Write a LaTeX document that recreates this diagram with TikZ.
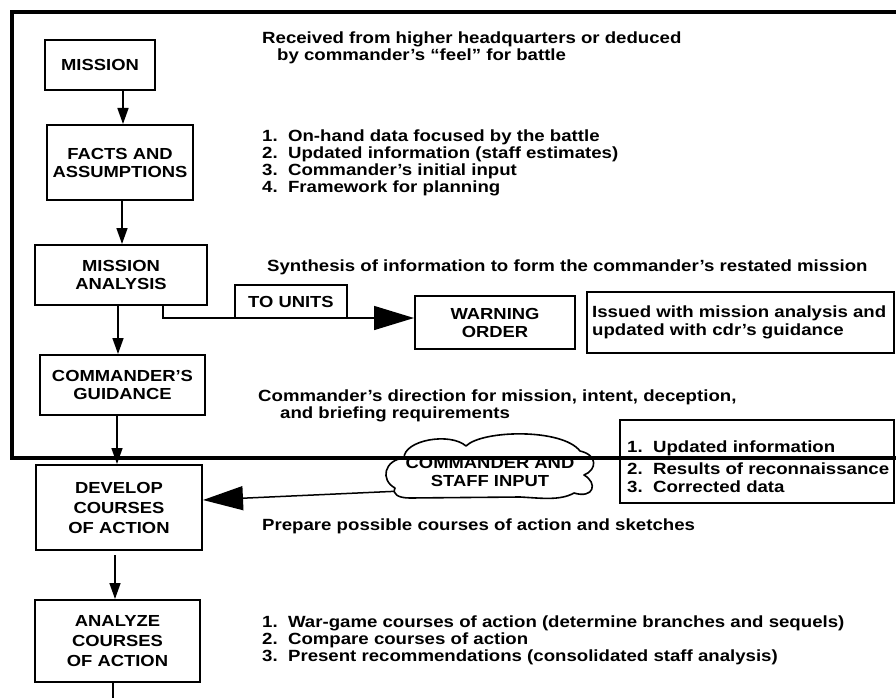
\documentclass[tikz,border=0pt]{standalone}
\usepackage{fontspec}
\setmainfont[FakeStretch=1.15]{Liberation Sans}
\usetikzlibrary{arrows.meta}
\pgfdeclarelayer{bg}
\pgfsetlayers{bg,main}
\begin{document}
\begin{tikzpicture}[x=1pt,y=-1pt,
  box/.style={draw,line width=2pt,fill=white,align=center,inner sep=0pt,
    font=\fontsize{16}{18}\selectfont\bfseries},
  body/.style={anchor=base west,inner sep=0pt,font=\fontsize{16.2}{17}\selectfont\bfseries},
  arr/.style={line width=1.5pt,-{Triangle[length=16pt,width=11pt]}},
  bigarr/.style={line width=1.5pt,-{Triangle[length=40pt,width=24pt]}},
  frame/.style={line width=4.5pt,line join=miter},
  cloudline/.style={draw,line width=1.6pt,fill=white,line join=round}
  ]
\useasboundingbox (0,0) rectangle (896,698);

% left column boxes
\node[box,minimum width=110pt,minimum height=50pt] (mission) at (100,65) {MISSION};
\node[box,minimum width=146pt,minimum height=75pt] (facts) at (120,162.5) {FACTS AND\\ASSUMPTIONS};
\node[box,minimum width=172pt,minimum height=60pt] (analysis) at (121,275) {MISSION\\ANALYSIS};
\node[box,minimum width=165pt,minimum height=60pt] (guidance) at (122.5,385) {COMMANDER'S\\GUIDANCE};
\node[box,minimum width=166pt,minimum height=85pt,font=\fontsize{16}{20}\selectfont\bfseries] (develop) at (119,507.5) {DEVELOP\\COURSES\\OF ACTION};
\node[box,minimum width=165pt,minimum height=82pt,font=\fontsize{16}{20}\selectfont\bfseries] (analyze) at (117.5,641) {ANALYZE\\COURSES\\OF ACTION};
\coordinate (cont) at (113,700);

% side boxes
\node[box,minimum width=112pt,minimum height=33pt] (tounits) at (291,301.5) {TO UNITS};
\node[box,minimum width=160pt,minimum height=53pt] (warning) at (495,322.5) {WARNING\\ORDER};
\node[box,minimum width=307pt,minimum height=61pt] (issued) at (740.5,322.5) {};
\node[box,minimum width=274pt,minimum height=83pt] (list) at (757,461.5) {};

% cloud (drawn outline, text node on top)
\path[cloudline] (395,488) .. controls (380,480) and (384,460) .. (404,458)
  .. controls (404,440) and (450,432) .. (466,446)
  .. controls (482,430) and (562,428) .. (580,451)
  .. controls (598,455) and (597,470) .. (584,475)
  .. controls (598,483) and (594,499) .. (574,493)
  .. controls (560,501) and (540,498) .. (520,497)
  -- (410,498) .. controls (398,498) and (392,494) .. (395,488) -- cycle;
\node[inner sep=0pt,align=center,font=\fontsize{16}{18}\selectfont\bfseries] (cloud) at (490,472) {COMMANDER AND\\STAFF INPUT};

% texts
\node[body] (r1) at (262,44) {Received from higher headquarters or deduced};
\node[body] (r2) at (277,61) {by commander’s “feel” for battle};
\node[body] (f1) at (262,141) {1.\ \ On-hand data focused by the battle};
\node[body] (f2) at (262,158) {2.\ \ Updated information (staff estimates)};
\node[body] (f3) at (262,175) {3.\ \ Commander’s initial input};
\node[body] (f4) at (262,192) {4.\ \ Framework for planning};
\node[body] (s1) at (267,271) {Synthesis of information to form the commander’s restated mission};
\node[body] (i1) at (592,317) {Issued with mission analysis and};
\node[body] (i2) at (592,335) {updated with cdr’s guidance};
\node[body] (c1) at (258,401) {Commander’s direction for mission, intent, deception,};
\node[body] (c2) at (280,418) {and briefing requirements};
\node[body] (l1) at (627,452) {1.\ \ Updated information};
\node[body] (l2) at (627,474) {2.\ \ Results of reconnaissance};
\node[body] (l3) at (627,492) {3.\ \ Corrected data};
\node[body] (p1) at (262,530) {Prepare possible courses of action and sketches};
\node[body] (a1) at (262,627) {1.\ \ War-game courses of action (determine branches and sequels)};
\node[body] (a2) at (262,644) {2.\ \ Compare courses of action};
\node[body] (a3) at (262,661) {3.\ \ Present recommendations (consolidated staff analysis)};

% connectors
\draw[arr] ([xshift=23pt]mission.south) -- ([xshift=3pt]facts.north);
\draw[arr] ([xshift=2pt]facts.south) -- ([xshift=1pt]analysis.north);
\draw[arr] ([xshift=-3pt]analysis.south) -- ([xshift=-4.5pt]guidance.north);
\draw[arr] ([xshift=-5.5pt]guidance.south) -- ([xshift=-2pt]develop.north);
\draw[arr] ([xshift=-4pt,yshift=-4pt]develop.south) -- ([xshift=-2.5pt]analyze.north);
\draw[line width=1.5pt] ([xshift=-4.5pt]analyze.south) -- (cont);
\draw[bigarr] ([xshift=42pt]analysis.south) |- ([yshift=4.5pt]warning.west);
\begin{pgfonlayer}{bg}
\draw[bigarr] ([yshift=-15pt]cloud.center) -- ([yshift=7.5pt]develop.east);
\end{pgfonlayer}

% outer frame
\draw[frame] (897,12) -- (12,12) -- (12,458) -- (897,458);
\end{tikzpicture}
\end{document}
